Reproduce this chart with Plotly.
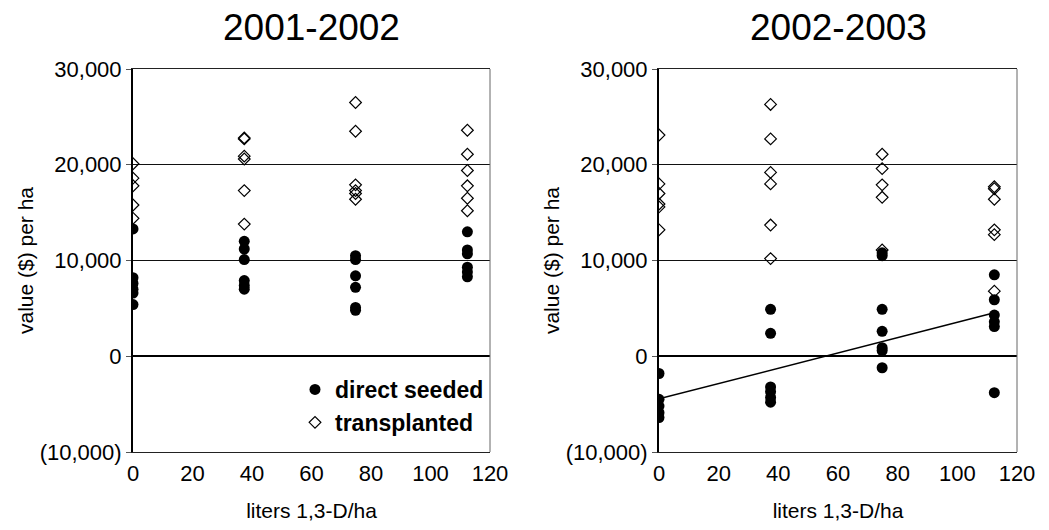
import plotly.graph_objects as go

# ---------------- data ----------------
rates = [0, 37.4, 74.8, 112.4]            # liters 1,3-D/ha

# 2001-2002 season, values in $ per ha, one list per rate
ds_2001 = [
    [13300, 8200, 7600, 7000, 6600, 5400],
    [12000, 11200, 10100, 7900, 7400, 7000],
    [10500, 10100, 8400, 7200, 5100, 4800],
    [13000, 11100, 10700, 9300, 8800, 8300],
]
tp_2001 = [
    [20100, 18600, 17800, 15800, 14400],
    [22800, 22700, 20900, 20600, 17300, 13800],
    [26500, 23500, 17900, 17300, 17000, 16400],
    [23600, 21100, 19400, 17800, 16500, 15200],
]

# 2002-2003 season
ds_2002 = [
    [-1800, -4500, -5200, -5900, -6400],
    [4900, 2400, -3200, -3700, -4300, -4800],
    [10800, 10500, 4900, 2600, 900, 600, -1200],
    [8500, 5900, 4300, 3600, 3100, -3800],
]
tp_2002 = [
    [23100, 18000, 17000, 15900, 15600, 13200],
    [26300, 22700, 19200, 18000, 13700, 10200],
    [21100, 19600, 17900, 16600, 11100],
    [17700, 17500, 16400, 13200, 12700, 6800],
]

# linear trend of direct-seeded values, 2002-2003
trend_x = [0, 112.4]
trend_intercept = -4450
trend_slope = 80

titles = ["2001-2002", "2002-2003"]
y_ticks = [-10000, 0, 10000, 20000, 30000]
y_tick_text = ["(10,000)", "0", "10,000", "20,000", "30,000"]
x_ticks = [0, 20, 40, 60, 80, 100, 120]
x_title = "liters 1,3-D/ha"
y_title = "value ($) per ha"
legend_names = ["direct seeded", "transplanted"]


def flatten(groups):
    xs, ys = [], []
    for r, vals in zip(rates, groups):
        xs += [r] * len(vals)
        ys += vals
    return xs, ys


FONT = "Liberation Sans, Arial, sans-serif"
fig = go.Figure()

panels = [(tp_2001, ds_2001, "x", "y", True), (tp_2002, ds_2002, "x2", "y2", False)]
for tp, ds, xa, ya, show in panels:
    tx, ty = flatten(tp)
    fig.add_trace(go.Scatter(
        x=tx, y=ty, mode="markers", name=legend_names[1], xaxis=xa, yaxis=ya,
        showlegend=show, legendrank=2,
        marker=dict(symbol="diamond-open", size=9, color="black", line=dict(width=1.2, color="black")),
    ))
    dx, dy = flatten(ds)
    fig.add_trace(go.Scatter(
        x=dx, y=dy, mode="markers", name=legend_names[0], xaxis=xa, yaxis=ya,
        showlegend=show, legendrank=1,
        marker=dict(symbol="circle", size=11, color="black"),
    ))

fig.add_trace(go.Scatter(
    x=trend_x, y=[trend_intercept + trend_slope * v for v in trend_x],
    mode="lines", line=dict(color="black", width=1.5), xaxis="x2", yaxis="y2",
    showlegend=False, hoverinfo="skip",
))

x_dom = [[133 / 1049, 490 / 1049], [659 / 1049, 1017 / 1049]]
y_dom = [1 - 452 / 530, 1 - 69 / 530]

common_x = dict(
    range=[0, 120], tickvals=x_ticks, ticks="", showgrid=False, zeroline=False,
    showline=True, linecolor="#222", linewidth=1, mirror=True, automargin=False,
    tickfont=dict(size=22, color="black", family=FONT),
    title=dict(text=x_title, font=dict(size=21, color="black", family=FONT), standoff=17),
    ticklabelstandoff=2,
)
common_y = dict(
    range=[-10000, 30000], tickvals=y_ticks, ticktext=y_tick_text,
    ticks="outside", ticklen=5, tickcolor="#555", automargin=False,
    showgrid=True, gridcolor="#111", gridwidth=1,
    zeroline=True, zerolinecolor="black", zerolinewidth=2,
    showline=True, linecolor="black", linewidth=2,
    tickfont=dict(size=22, color="black", family=FONT),
    title=dict(text=y_title, font=dict(size=21, color="black", family=FONT), standoff=0),
)

fig.update_layout(
    width=1049, height=530,
    margin=dict(l=0, r=0, t=0, b=0, autoexpand=False),
    paper_bgcolor="white", plot_bgcolor="white",
    xaxis=dict(domain=x_dom[0], anchor="y", **common_x),
    yaxis=dict(domain=y_dom, anchor="x", **common_y),
    xaxis2=dict(domain=x_dom[1], anchor="y2", **common_x),
    yaxis2=dict(domain=y_dom, anchor="x2", **common_y),
    legend=dict(
        x=295 / 1049, y=1 - 368 / 530, xanchor="left", yanchor="top",
        bgcolor="rgba(0,0,0,0)", borderwidth=0,
        font=dict(size=23, color="black", family=FONT, weight="bold"),
        tracegroupgap=0,
    ),
    showlegend=True,
)

# right-hand border of each plot area and panel titles
for i, xd in enumerate(x_dom):
    xr = "x domain" if i == 0 else "x2 domain"
    yr = "y domain" if i == 0 else "y2 domain"
    fig.add_shape(type="line", xref=xr, yref=yr, x0=1, x1=1, y0=0, y1=1,
                  line=dict(color="#666", width=1), layer="above")
    fig.add_annotation(
        text=titles[i], xref="paper", yref="paper",
        x=(xd[0] + xd[1]) / 2, y=1 - 28 / 530, xanchor="center", yanchor="middle",
        showarrow=False,
        font=dict(size=37, color="black", family="Liberation Sans Narrow, Arial Narrow, Liberation Sans, sans-serif"),
    )

fig.write_html(
    "out.html",
    config={"displayModeBar": False},
    post_script="document.body.style.margin='0';document.body.style.overflow='hidden';",
)
